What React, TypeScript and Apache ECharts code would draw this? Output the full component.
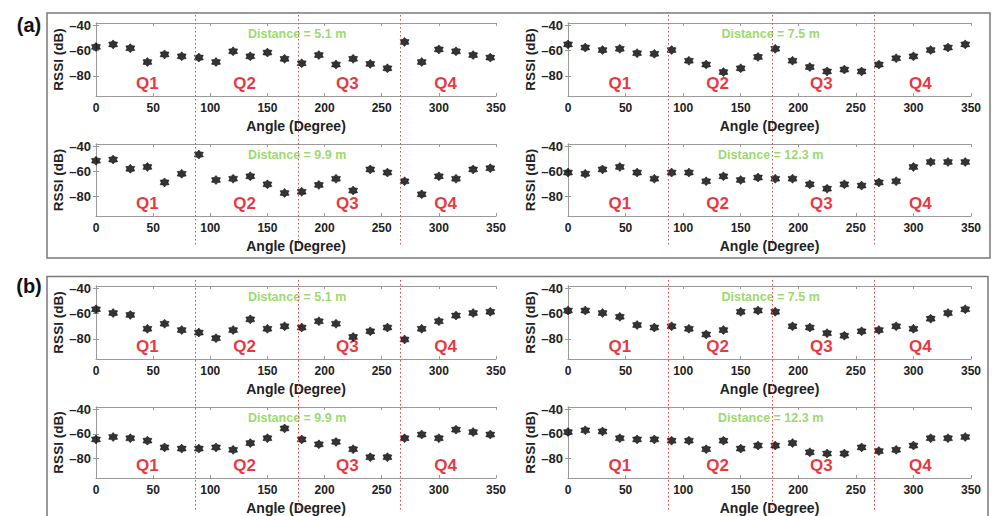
import React, { useEffect, useRef } from "react";
import * as echarts from "echarts";

// Angles (degrees) at which RSSI was measured
const angles = [0, 15, 30, 45, 60, 75, 90, 105, 120, 135, 150, 165, 180, 195, 210, 225, 240, 255, 270, 285, 300, 315, 330, 345];

// Panel (a)
const aD51 = [-57, -55, -58, -69, -63, -64.5, -65.5, -69, -60.5, -64.5, -61.5, -66.5, -70, -63.5, -71, -66.5, -70.5, -74, -53, -69, -59, -60.5, -63.5, -65.5];
const aD75 = [-55, -57.5, -59.5, -58.5, -62, -62.5, -59.5, -68, -71, -77, -74, -65, -58.5, -68, -73, -76.5, -75, -76.5, -71, -66, -64.5, -59.5, -57.5, -55];
const aD99 = [-51.5, -50.5, -58, -56.5, -69, -62, -46.5, -67, -66, -64, -70.5, -77.5, -76.5, -71, -66, -75.5, -58.5, -61, -68, -78.5, -64, -66, -58.5, -57.5];
const aD123 = [-61, -62, -58.5, -56.5, -61, -66, -61, -61, -68, -64, -67, -65, -66, -66, -70.5, -74, -70.5, -71.5, -69, -68, -56.5, -52.5, -52.5, -52.5];
// Panel (b)
const bD51 = [-56.5, -59.5, -61, -72, -68, -73, -75, -79.5, -73, -64.5, -72, -70, -71, -66, -68, -78.5, -74, -71, -80.5, -72, -66, -61.5, -59.5, -58.5];
const bD75 = [-57.5, -57.5, -59.5, -62.5, -69, -71, -70, -72, -76.5, -73, -58.5, -57.5, -58.5, -70, -71, -75.5, -77.5, -74, -73, -70, -72, -64, -59.5, -56.5];
const bD99 = [-64.5, -62.5, -63.5, -65.5, -71, -72, -72, -71, -73, -67.5, -63.5, -55.5, -64.5, -68.5, -66.5, -72.5, -79, -79, -63.5, -60.5, -63.5, -56.5, -58.5, -60.5];
const bD123 = [-58.5, -57, -58, -63.5, -64.5, -64.5, -65.5, -65.5, -72.5, -65.5, -72, -69.5, -69.5, -67.5, -75, -76, -76, -71, -74, -73, -69.5, -63.5, -63.5, -62.5];

const seriesValues = [aD51, aD75, aD99, aD123, bD51, bD75, bD99, bD123];
const distanceLabels = ["Distance = 5.1 m", "Distance = 7.5 m", "Distance = 9.9 m", "Distance = 12.3 m", "Distance = 5.1 m", "Distance = 7.5 m", "Distance = 9.9 m", "Distance = 12.3 m"];

// Tick labels / annotations
const xTicks = [0, 50, 100, 150, 200, 250, 300, 350];
const yTicks = [-80, -60, -40];
const quadrantNames = ["Q1", "Q2", "Q3", "Q4"];
const quadrantLabelAngles = [45, 130, 220, 306];
const quadrantLabelRssi = -86;
const distanceLabelAngle = 176;
const distanceLabelRssi = -47;
const quadrantDividers = [87, 177, 266];
const panelLabels = ["(a)", "(b)"];

const FONT = "'Liberation Sans', Arial, Helvetica, sans-serif";
const AXIS_COLOR = "#9a9a9a";
const TEXT_COLOR = "#222222";
const STAR = "path://M0,-10 L3.4,-5.8 8.7,-5 6.6,0 8.7,5 3.4,5.8 0,10 -3.4,5.8 -8.7,5 -6.6,0 -8.7,-5 -3.4,-5.8 Z";

const colLeft = [96, 568];
const colWidth = [400, 403];
const rowTop = [23, 144, 286, 407];
const rowHeight = [73, 72, 73, 72];

export default function App() {
  const ref = useRef<HTMLDivElement>(null);
  useEffect(() => {
    if (!ref.current) return;
    const chart = echarts.init(ref.current, null, { renderer: "svg" });
    const grid: any[] = [];
    const xAxis: any[] = [];
    const yAxis: any[] = [];
    const series: any[] = [];
    for (let i = 0; i < 8; i++) {
      const row = Math.floor(i / 2);
      const col = i % 2;
      grid.push({ left: colLeft[col], top: rowTop[row], width: colWidth[col], height: rowHeight[row], containLabel: false });
      const tickStyle = { inside: true, length: 3, lineStyle: { color: AXIS_COLOR, width: 1 } };
      xAxis.push({
        type: "value", gridIndex: i, position: "bottom", min: 0, max: 350, interval: 50,
        axisLine: { show: true, lineStyle: { color: AXIS_COLOR, width: 1 } },
        axisTick: tickStyle, splitLine: { show: false },
        axisLabel: { color: TEXT_COLOR, fontWeight: "bold", fontSize: 12, fontFamily: FONT, margin: 6, customValues: xTicks },
        name: "Angle (Degree)", nameLocation: "middle", nameGap: 23,
        nameTextStyle: { color: TEXT_COLOR, fontWeight: "bold", fontSize: 14, fontFamily: FONT },
      });
      xAxis.push({
        type: "value", gridIndex: i, position: "top", min: 0, max: 350, interval: 50,
        axisLine: { show: true, lineStyle: { color: AXIS_COLOR, width: 1 } },
        axisTick: tickStyle, axisLabel: { show: false }, splitLine: { show: false },
      });
      yAxis.push({
        type: "value", gridIndex: i, position: "left", min: -96, max: -38,
        axisLine: { show: true, lineStyle: { color: AXIS_COLOR, width: 1 } },
        axisTick: { ...tickStyle, customValues: yTicks }, splitLine: { show: false },
        axisLabel: {
          color: TEXT_COLOR, fontWeight: "bold", fontSize: 13, fontFamily: FONT, margin: 5,
          customValues: yTicks, formatter: (v: number) => "\u2013" + Math.abs(v),
        },
        name: "RSSI (dB)", nameLocation: "middle", nameGap: 26, nameRotate: 90,
        nameTextStyle: { color: TEXT_COLOR, fontWeight: "bold", fontSize: 13.5, fontFamily: FONT },
      });
      yAxis.push({
        type: "value", gridIndex: i, position: "right", min: -96, max: -38,
        axisLine: { show: true, lineStyle: { color: AXIS_COLOR, width: 1 } },
        axisTick: { ...tickStyle, customValues: yTicks }, axisLabel: { show: false }, splitLine: { show: false },
      });
      series.push({
        type: "scatter", xAxisIndex: 2 * i, yAxisIndex: 2 * i,
        symbol: STAR, symbolSize: 9, itemStyle: { color: "#000", borderColor: "#000", borderWidth: 0.6 },
        data: angles.map((a, k) => [a, seriesValues[i][k]]),
        z: 5,
      });
      const labelData: any[] = quadrantNames.map((q, k) => ({
        value: [quadrantLabelAngles[k], quadrantLabelRssi],
        label: { show: true, position: "inside", formatter: q, color: "#e8000b", fontSize: 17, fontWeight: "bold", fontFamily: FONT },
      }));
      labelData.push({
        value: [distanceLabelAngle, distanceLabelRssi],
        label: { show: true, position: "inside", formatter: distanceLabels[i], color: "#7fd046", fontSize: 12.5, fontWeight: "bold", fontFamily: FONT },
      });
      series.push({
        type: "scatter", xAxisIndex: 2 * i, yAxisIndex: 2 * i, silent: true,
        symbol: "circle", symbolSize: 1, itemStyle: { color: "rgba(0,0,0,0)" },
        data: labelData, z: 4,
      });
    }
    chart.setOption({
      animation: false,
      backgroundColor: "#ffffff",
      textStyle: { fontFamily: FONT },
      grid, xAxis, yAxis, series,
    });
    const graphics: any[] = [
      { type: "rect", shape: { x: 47, y: 13, width: 943, height: 245 }, style: { fill: "none", stroke: "#7a7a7a", lineWidth: 1.5 }, z: 1 },
      { type: "rect", shape: { x: 47, y: 276.5, width: 941, height: 260 }, style: { fill: "none", stroke: "#7a7a7a", lineWidth: 1.5 }, z: 1 },
      { type: "text", style: { text: panelLabels[0], x: 29, y: 25, align: "center", verticalAlign: "middle", font: "bold 20px " + FONT, fill: "#111" } },
      { type: "text", style: { text: panelLabels[1], x: 29, y: 286, align: "center", verticalAlign: "middle", font: "bold 20px " + FONT, fill: "#111" } },
    ];
    const spans = [[15, 247], [280, 512]];
    for (let p = 0; p < 2; p++) {
      for (let c = 0; c < 2; c++) {
        const gi = p * 4 + c;
        quadrantDividers.forEach((d) => {
          const raw = chart.convertToPixel({ xAxisIndex: 2 * gi }, d) as number;
          const px = Math.round(raw) + 0.5;
          graphics.push({
            type: "line", shape: { x1: px, y1: spans[p][0], x2: px, y2: spans[p][1] },
            style: { stroke: "#e04848", lineWidth: 1, lineDash: [1.5, 2.5] }, z: 10,
          });
        });
      }
    }
    chart.setOption({ graphic: graphics });
    return () => chart.dispose();
  }, []);
  return <div ref={ref} style={{ position: "fixed", left: 0, top: 0, width: 992, height: 516, background: "#fff" }} />;
}
